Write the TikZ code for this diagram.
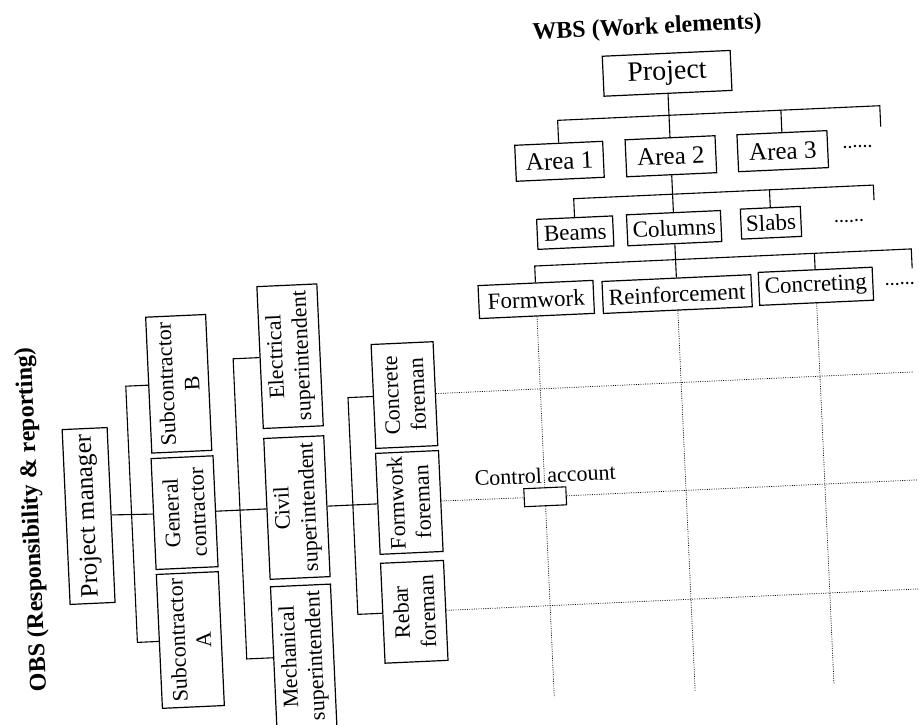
\documentclass[tikz,border=0pt]{standalone}
\usepackage{fontspec}
\setmainfont{Liberation Serif}
\begin{document}
\begin{tikzpicture}[x=1pt,y=1pt,
  box/.style={draw, line width=1.2pt, inner sep=0pt, font=\fontsize{23}{26}\selectfont},
  obsbox/.style={draw, line width=1.2pt, inner sep=0pt, rotate=90, align=center,
    font=\fontsize{22}{26}\selectfont},
  link/.style={line width=1.1pt},
  grid/.style={line width=0.75pt, dash pattern=on 0.9pt off 1.4pt},
  more/.style={font=\fontsize{20}{22}\selectfont, inner sep=0pt},
  heading/.style={font=\bfseries\fontsize{24}{28}\selectfont}
]
\useasboundingbox (-460,-362) rectangle (459,362);
\begin{scope}[rotate=2.6, transform shape]

% ---------- OBS: organisation tree, drawn sideways ----------
\node[heading, rotate=90] (obstitle) at (-434,-138) {OBS (Responsibility \& reporting)};
\node[obsbox, font=\fontsize{25}{28}\selectfont, minimum width=175pt, minimum height=45pt]
  (pm) at (-378,-137) {Project manager};

\node[obsbox, minimum width=136pt, minimum height=60pt] (subb) at (-282,-9) {Subcontractor\\B};
\node[obsbox, minimum width=111pt, minimum height=62pt] (gc) at (-282,-138) {General\\contractor};
\node[obsbox, minimum width=134pt, minimum height=62pt] (suba) at (-282,-265.5) {Subcontractor\\A};
\coordinate (obsbarA) at (-335,0);
\draw[link] (pm.south) -- (gc.north);
\draw[link] (subb.north) -- (subb.north -| obsbarA) -- (suba.north -| obsbarA) -- (suba.north);

\node[obsbox, minimum width=142pt, minimum height=60pt] (elec) at (-169.5,13.5) {Electrical\\superintendent};
\node[obsbox, minimum width=141pt, minimum height=60pt] (civil) at (-169.5,-138) {Civil\\superintendent};
\node[obsbox, minimum width=142pt, minimum height=60pt] (mech) at (-169.5,-287) {Mechanical\\superintendent};
\coordinate (obsbarB) at (-226.5,0);
\draw[link] (gc.south) -- (civil.north);
\draw[link] (elec.north) -- (elec.north -| obsbarB) -- (mech.north -| obsbarB) -- (mech.north);

\node[obsbox, minimum width=104pt, minimum height=62pt] (concf) at (-57,-30.5) {Concrete\\foreman};
\node[obsbox, minimum width=101pt, minimum height=63pt] (formf) at (-57,-138) {Formwork\\foreman};
\node[obsbox, minimum width=100pt, minimum height=63pt] (rebarf) at (-57,-247.5) {Rebar\\foreman};
\coordinate (obsbarC) at (-113.5,0);
\draw[link] (civil.south) -- (formf.north);
\draw[link] (concf.north) -- (concf.north -| obsbarC) -- (rebarf.north -| obsbarC) -- (rebarf.north);

% ---------- WBS: work breakdown tree ----------
\node[heading] (wbstitle) at (202,325) {WBS (Work elements)};
\node[box, font=\fontsize{28}{30}\selectfont, minimum width=128pt, minimum height=40pt]
  (proj) at (220,279) {Project};

\node[box, font=\fontsize{25}{28}\selectfont, minimum width=88pt, minimum height=36pt] (area1) at (108.5,196) {Area 1};
\node[box, font=\fontsize{25}{28}\selectfont, minimum width=90pt, minimum height=37pt] (area2) at (220,196) {Area 2};
\node[box, font=\fontsize{25}{28}\selectfont, minimum width=90pt, minimum height=37pt] (area3) at (332,196) {Area 3};
\node[more, anchor=base] (areamore) at (407,196) {......};
\coordinate (barAend) at (431,237);
\coordinate (barAstub) at (431,216);
\draw[link] (proj.south) -- (area2.north);
\draw[link] (area1.north) -- (area1.north |- barAend) -- (barAend) -- (barAstub);
\draw[link] (area3.north) -- (area3.north |- barAend);

\node[box, minimum width=76pt, minimum height=30pt] (beams) at (121,124) {Beams};
\node[box, minimum width=94pt, minimum height=31pt] (columns) at (220,124) {Columns};
\node[box, minimum width=60pt, minimum height=30pt] (slabs) at (317,125) {Slabs};
\node[more, anchor=base] (membermore) at (395,122) {......};
\coordinate (barBend) at (421,158);
\coordinate (barBstub) at (421,143);
\draw[link] (area2.south) -- (columns.north);
\draw[link] (beams.north) -- (beams.north |- barBend) -- (barBend) -- (barBstub);
\draw[link] (slabs.north) -- (slabs.north |- barBend);

\node[box, minimum width=115pt, minimum height=33pt] (formwork) at (79,59) {Formwork};
\node[box, minimum width=149pt, minimum height=32pt] (reinf) at (220,58) {Reinforcement};
\node[box, minimum width=114pt, minimum height=33pt] (concreting) at (359,59.5) {Concreting};
\node[more, anchor=base] (taskmore) at (443,57) {......};
\coordinate (barCend) at (456,92.5);
\coordinate (barCstub) at (456,73);
\draw[link] (columns.south) -- (reinf.north);
\draw[link] (formwork.north) -- (formwork.north |- barCend) -- (barCend) -- (barCstub);
\draw[link] (concreting.north) -- (concreting.north |- barCend);

% ---------- responsibility / work matrix ----------
\node[draw, line width=1.1pt, fill=white, minimum width=42pt, minimum height=18pt, inner sep=0pt]
  (ca) at (79,-138.5) {};
\node[font=\fontsize{22}{24}\selectfont] (calabel) at (80,-117) {Control account};

\coordinate (gridbottom) at (0,-339);
\coordinate (gridright) at (452,0);
\draw[grid] (formwork.south) -- (ca.north);
\draw[grid] (ca.south) -- (ca.south |- gridbottom);
\draw[grid] (reinf.south) -- (reinf.south |- gridbottom);
\draw[grid] (concreting.south) -- (concreting.south |- gridbottom);
\draw[grid] (concf.south) -- (concf.south -| gridright);
\draw[grid] (formf.south) -- (ca.west);
\draw[grid] (ca.east) -- (ca.east -| gridright);
\draw[grid] (rebarf.south) -- (rebarf.south -| gridright);

\end{scope}
\end{tikzpicture}
\end{document}
